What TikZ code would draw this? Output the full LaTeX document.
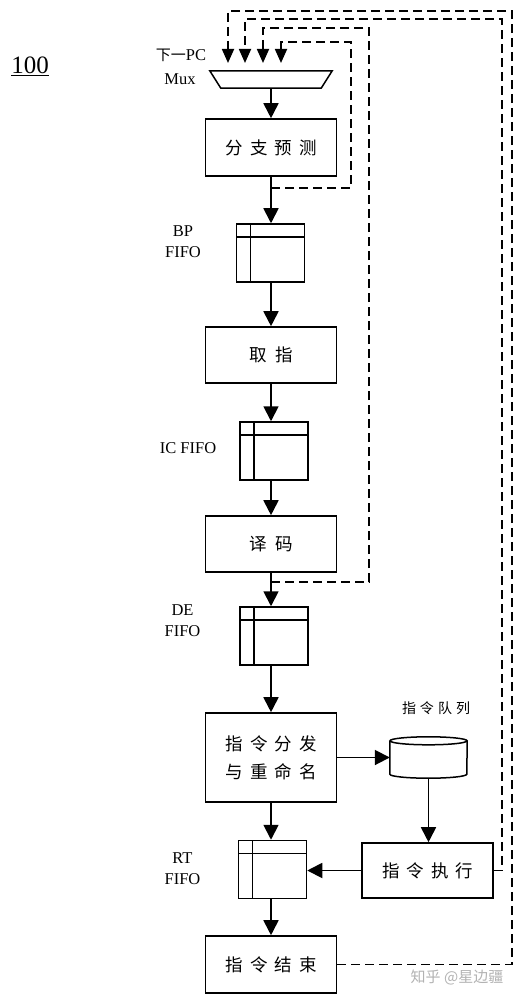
\documentclass[tikz,border=0pt]{standalone}
\usepackage{fontspec}
\setmainfont{Liberation Serif}
\newfontfamily\cjk{Noto Sans CJK SC}
\usetikzlibrary{arrows.meta,calc}
\newcommand\cgap[1]{\hspace{#1pt}}
\tikzset{
  box/.style={draw, line width=1.6pt, minimum width=131pt, inner sep=0pt,
    font=\cjk\fontsize{17.5}{28}\selectfont, align=center},
  fifo/.style={draw, line width=1.5pt, minimum width=68pt, minimum height=58pt, inner sep=0pt,
    path picture={
      \draw[line width=1.5pt] ([yshift=-13pt]path picture bounding box.north west) -- ([yshift=-13pt]path picture bounding box.north east);
      \draw[line width=1.5pt] ([xshift=14pt]path picture bounding box.north west) -- ([xshift=14pt]path picture bounding box.south west);
    }},
  lbl/.style={font=\fontsize{16.5}{21}\selectfont, align=center, inner sep=0pt},
  arr/.style={line width=1.8pt, -{Triangle[width=15pt,length=15pt]}},
  fb/.style={line width=1.8pt, dash pattern=on 9pt off 5pt, -{Triangle[width=12pt,length=14pt]}},
}
\begin{document}
\begin{tikzpicture}[x=1pt,y=-1pt]
\useasboundingbox (0,0) rectangle (521,1000);

% title
\node[font=\fontsize{25}{28}\selectfont, inner sep=0pt] (title) at (30,66) {\underline{100}};

% mux
\node[minimum width=122pt, minimum height=17pt, inner sep=0pt] (mux) at (271,79.5) {};
\draw[line width=1.5pt] (mux.north west) -- (mux.north east) -- ([xshift=-11pt]mux.south east) -- ([xshift=11pt]mux.south west) -- cycle;
\node[lbl] (muxlbl1) at (181,55) {{\cjk\fontsize{15}{18}\selectfont 下一}PC};
\node[lbl] (muxlbl2) at (180,79) {Mux};
\coordinate (in1) at (228,63);
\coordinate (in2) at (245,63);
\coordinate (in3) at (263,63);
\coordinate (in4) at (281,63);

% main column
\node[box, minimum height=57pt] (bp) at (271,147.5) {分\cgap{7}支\cgap{7}预\cgap{7}测};
\node[fifo] (bpf) at (270.5,253) {};
\node[lbl] (bpl) at (183,241.5) {BP\\FIFO};
\node[box, minimum height=56pt] (fetch) at (271,355) {取\cgap{9}指};
\node[fifo] (icf) at (274,451) {};
\node[lbl] (icl) at (188,448) {IC FIFO};
\node[box, minimum height=56pt] (dec) at (271,544) {译\cgap{9}码};
\node[fifo] (def) at (274,636) {};
\node[lbl] (del) at (182.5,621) {DE\\FIFO};
\node[box, minimum height=89pt] (disp) at (271,757.5) {指\cgap{7}令\cgap{7}分\cgap{7}发\\与\cgap{7}重\cgap{7}命\cgap{7}名};
\node[fifo] (rtf) at (272.5,869.5) {};
\node[lbl] (rtl) at (182.5,868.5) {RT\\FIFO};
\node[box, minimum height=57pt] (end) at (271,964.5) {指\cgap{7}令\cgap{7}结\cgap{7}束};

% queue and execute
\node[minimum width=77pt, minimum height=41pt, inner sep=0pt] (q) at (428.5,757.5) {};
\draw[line width=1.5pt] ([yshift=-4pt]q.north) ellipse [x radius=38.5pt, y radius=4pt];
\draw[line width=1.5pt] ([yshift=-4pt]q.north west) -- ([yshift=4pt]q.south west)
  arc[start angle=180, end angle=360, x radius=38.5pt, y radius=4pt] -- ([yshift=-4pt]q.north east);
\node[font=\cjk\fontsize{14}{16}\selectfont, inner sep=0pt] (ql) at (436,708) {指\cgap{4}令\cgap{4}队\cgap{4}列};
\node[box, minimum height=55pt] (exec) at (427.5,870.5) {指\cgap{7}令\cgap{7}执\cgap{7}行};

% solid arrows
\draw[arr] (mux.south) -- (bp.north);
\draw[arr] (bp.south) -- (bp.south |- bpf.north);
\draw[arr] (fetch.north |- bpf.south) -- (fetch.north);
\draw[arr] (fetch.south) -- (fetch.south |- icf.north);
\draw[arr] (dec.north |- icf.south) -- (dec.north);
\draw[arr] (dec.south) -- (dec.south |- def.north);
\draw[arr] (disp.north |- def.south) -- (disp.north);
\draw[arr] (disp.east) -- (q.west);
\draw[arr] (q.south) -- (q.south |- exec.north);
\draw[arr] (disp.south) -- (disp.south |- rtf.north);
\draw[arr] (exec.west) -- (exec.west -| rtf.east);
\draw[arr] (end.north |- rtf.south) -- (end.north);

% feedback loops
\coordinate (t4) at (271,188);
\coordinate (t3) at (271,582);
\draw[fb] (end.east) -| (512,11) -| (in1);
\draw[fb] (exec.east) -| (502,19) -| (in2);
\draw[fb] (t3) -| (369,28) -| (in3);
\draw[fb] (t4) -| (351,42) -| (in4);

% watermark
\node[font=\cjk\fontsize{15}{17}\selectfont, text=black!30, inner sep=0pt] (wm) at (457,977) {知乎 @星边疆};
\end{tikzpicture}
\end{document}
